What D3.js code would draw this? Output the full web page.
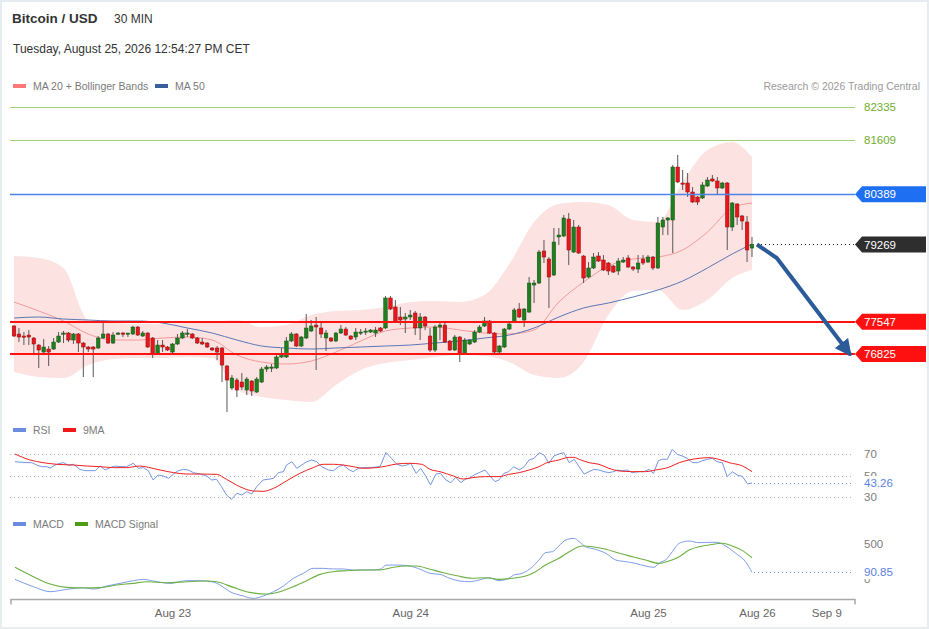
<!DOCTYPE html>
<html>
<head>
<meta charset="utf-8">
<script src="https://cdn.jsdelivr.net/npm/d3@7"></script>
<style>
  body { margin: 0; background: #fff; }
  svg { display: block; font-family: "Liberation Sans", Arial, sans-serif; }
</style>
</head>
<body>
<div id="dchart"></div>
<script>
// --- candles (30 min) ---
const open = [77451,77273,77228,77250,77184,77027,76871,76938,76938,77094,77273,77295,77139,77273,77072,76983,76983,76961,77184,77273,
  77072,77273,77295,77273,77273,77429,77228,77295,77184,76827,77027,76983,76871,77050,77184,77273,77273,77184,77094,77072,
  76961,76961,76961,76559,76069,76247,76202,76024,76225,75979,76202,76492,76515,76515,76760,76760,77117,77273,77005,77184,
  77340,77473,77407,77184,77184,77117,77295,77384,77228,77206,77295,77317,77317,77295,77407,77407,78076,77875,77652,77607,
  77652,77741,77407,77652,77228,76916,77429,77473,77117,76916,77206,76849,77050,77094,77317,77451,77563,77295,76871,76983,
  77384,77540,77830,77585,77763,78365,78410,79124,78945,78588,79436,79458,79837,79101,79659,79012,78544,78745,79012,78923,
  78856,78789,78678,78878,78968,78767,78722,78945,78878,78990,78745,79659,79815,79815,80997,80640,80640,80439,80328,80306,
  80573,80730,80685,80529,80640,79659,80172,79905,79770,79190];
const high = [77473,77407,77317,77362,77206,77050,77161,77005,77184,77317,77340,77317,77295,77295,77094,77005,77005,77228,77518,77295,
  77317,77317,77317,77295,77451,77451,77340,77317,77206,77139,77139,77005,77072,77273,77340,77384,77295,77206,77184,77094,
  76983,77005,76983,76581,76358,76292,76403,76314,76247,76314,76537,76581,76604,76804,76961,77206,77317,77295,77228,77719,
  77585,77652,77518,77362,77206,77317,77473,77429,77250,77407,77384,77407,77384,77429,77429,78120,78120,78031,77875,77741,
  77808,77786,77741,77674,77407,77473,77518,77518,77139,77250,77228,77184,77161,77362,77473,77652,77585,77317,77027,77407,
  77518,77853,77964,77853,78544,78477,79146,79369,78990,79637,79637,79927,79971,79815,79704,79034,78878,79079,79101,79034,
  78878,78811,78968,78990,79034,78789,79034,79034,79034,79012,79882,79882,79882,81041,81265,80930,80863,80551,80350,80663,
  80774,80819,80774,80663,80663,80216,80194,79927,79905,79436];
const low = [77206,77094,77027,77027,76849,76515,76849,76559,76916,77072,77072,77094,77050,76871,76314,76871,76314,76938,77161,77050,
  77050,77250,77206,77206,77250,77228,77206,76961,76738,76804,76871,76894,76849,77027,77161,77206,77161,77050,77027,76961,
  76894,76693,76202,75533,76024,75868,76024,75912,75890,75957,76180,76425,76425,76492,76738,76738,77094,76983,76983,77161,
  77317,76470,77184,76894,77094,77094,77273,77228,77139,77139,77250,77250,77295,77206,77317,77384,77808,77518,77473,77295,
  77585,77250,77139,77362,76871,76871,77139,77072,76894,76894,76648,76827,77027,77072,77295,77429,77273,76849,76849,76961,
  77362,77518,77630,77429,77741,77964,78388,78856,77853,78566,79257,79436,78811,79079,79057,78410,78521,78722,78878,78678,
  78588,78633,78588,78856,78745,78678,78633,78811,78856,78700,78722,79480,79480,79079,80640,80484,80328,80194,80149,80283,
  80551,80663,80372,80506,79146,79570,79704,79592,78878,78990];
const close = [77228,77206,77206,77206,77050,76916,76983,76871,77094,77228,77295,77139,77273,77072,76983,76938,76938,77184,77273,77072,
  77250,77295,77273,77295,77429,77250,77295,76983,76827,77027,76983,76916,77050,77184,77295,77295,77184,77072,77050,76983,
  76916,76871,76581,76247,76292,76024,76091,76269,76002,76269,76492,76537,76537,76760,76827,77117,77273,77005,77206,77407,
  77451,77429,77273,77295,77117,77295,77384,77250,77161,77317,77317,77340,77362,77362,77340,78076,77830,77540,77585,77652,
  77696,77407,77652,77451,76916,77429,77473,77094,76916,77206,76849,77139,77139,77317,77429,77563,77295,76871,77005,77384,
  77496,77808,77652,77830,78410,78410,79101,78990,78544,79324,79480,79860,79146,79659,79079,78521,78745,78990,78900,78700,
  78678,78655,78900,78923,78767,78722,78856,78856,78990,78745,79748,79815,79860,80997,80663,80618,80439,80216,80216,80596,
  80707,80685,80529,80640,79659,80194,79882,79793,79146,79269];

// --- MA 20 + Bollinger, MA 50 (read every 5 candles) ---
const maIdx = [0,5,10,15,20,25,30,35,40,45,50,55,60,65,70,75,80,85,90,95,100,105,110,115,120,125,130,135,140,145,149];
const bbUpper = [79012,78968,78745,77585,77518,77496,77496,77518,77540,77585,77429,77473,77696,77786,77808,77875,77986,78009,77986,78143,
  78834,79771,80172,80216,80149,79815,79771,80662,81376,81554,81220];
const bbLower = [76425,76314,76292,76581,76715,76738,76738,76760,76738,76024,75868,75801,75756,76136,76470,76626,76693,76760,76804,76782,
  76648,76358,76292,76648,77696,78232,78254,77808,78031,78522,78700];
const ma20 = [77986,77786,77563,77273,77139,77139,77184,77206,77139,76804,76648,76604,76671,76871,77117,77340,77407,77429,77362,77295,
  77273,77362,77986,78432,78789,78945,78990,79146,79547,80083,80194];
const ma50 = [77630,77652,77607,77585,77563,77563,77518,77407,77295,77139,77005,76961,76938,76961,76983,77005,77027,77072,77117,77184,
  77250,77407,77652,77853,77964,78098,78254,78455,78745,79057,79280];

// --- levels ---
const resistances = [82335, 81609];
const pivot = 80389;
const lastPrice = 79269;
const supports = [77547, 76825];
const forecast = [[150, 79269], [154, 78968], [168.9, 76804]];

// --- RSI ---
const rsiIdx = [0.2,2.6,3.6,4.6,5.6,6.6,7.3,8.3,9.3,10,11,12,13.3,14.3,15.3,16.4,17.4,18.4,19.4,20.4,21.4,22.7,24.1,25.1,26.1,27.1,28.1,29.1,30.1,31.2,
  32.2,33.2,34.2,35.2,36.2,37.6,38.9,39.9,40.9,41.9,42.9,43.9,45,46,47,48,49,50.3,51.3,52.4,53.4,54.4,55,56.1,57.1,58.1,59.1,60.1,61.1,62.1,
  63.5,64.5,65.5,66.5,67.5,68.5,69.5,70.5,71.5,72.5,73.9,75.1,76.2,77.3,78.3,79.3,80.1,81.2,82.1,83.2,84.1,85.2,86.1,87.2,88.2,89.2,90.2,91.1,
  91.9,92.9,93.9,95.1,96.2,97.1,97.9,98.9,99.9,100.9,102,103,104,105,106,107,108,109,110,111,112.1,113.1,114.1,115.1,116.1,117.1,118.1,119.1,
  120.1,121.1,121.8,122.8,123.8,124.8,126.2,127.2,128.2,129.1,130.1,130.9,131.9,132.9,133.9,134.9,135.9,137,138,139,140,141,141.9,143,144,145,
  146,147.1,148.1,149];
const rsi = [62.9,62.0,62.0,59.8,58.3,58.3,57.1,59.8,61.4,62.0,59.5,60.5,55.8,54.6,54.6,54.6,58.9,55.2,57.4,58.9,58.3,58.3,61.4,56.8,57.4,54.6,46.0,50.6,49.7,47.5,
  51.5,54.6,55.8,55.2,52.8,51.5,49.7,46.0,46.6,39.8,32.1,28.1,33.7,32.1,35.2,33.1,39.8,46.0,46.6,47.5,52.8,53.7,59.8,62.9,56.8,59.8,62.9,64.5,62.9,58.3,
  55.2,54.6,58.3,59.8,55.8,53.7,56.8,57.4,57.4,57.7,58.3,71.5,66.0,60.5,58.9,59.8,61.4,52.1,56.8,49.1,41.4,51.5,52.1,46.0,43.5,48.5,43.5,46.6,
  47.5,50.6,52.8,55.2,49.1,44.5,46.0,52.1,53.7,58.3,55.2,58.3,64.5,66.0,71.2,69.1,61.4,68.2,70.0,71.2,62.0,65.1,58.3,51.5,53.7,55.8,55.2,53.7,
  52.8,53.7,55.2,54.6,55.2,52.8,53.7,53.7,55.8,52.1,63.8,65.1,65.1,74.3,69.7,68.2,66.0,62.0,62.0,63.8,65.1,66.0,62.9,62.0,49.1,53.7,
  50.6,49.1,42.3,43.26];
const rsiMaIdx = [0.2,3.2,5.9,8.6,12,14.7,17.4,20.1,22.7,25.4,27.1,29.5,32.2,34.9,37.6,40.9,42.9,45.6,48.3,50.3,52.4,55,57.7,60.4,62.4,64.5,66.5,68.5,70.5,73.2,
  75.2,77.3,79.9,82.3,84,86,88.7,90.7,92.5,95.2,97.9,99.9,102,104,106,107.3,110,112.1,113.1,114.1,116.1,118.1,120.1,122.2,124.8,127.5,129.5,132.2,134.3,136.3,
  138.3,140.3,142.3,144.4,147.1,149];
const rsiMa = [70.0,64.5,62.0,60.5,59.8,58.9,58.3,57.4,57.4,58.9,57.7,55.2,52.8,51.5,51.5,51.2,46.6,39.8,35.8,35.5,38.3,45.1,52.1,57.4,60.5,60.5,59.8,58.3,56.8,57.4,
  58.9,60.8,61.4,60.5,55.8,53.7,49.7,46.9,48.1,49.1,49.1,51.2,52.8,55.2,58.3,61.4,64.5,66.9,66.9,65.1,62.0,60.5,56.8,54.3,53.7,53.7,55.2,57.7,62.0,64.5,
  66.0,66.6,65.1,62.0,58.9,53.7];
const rsiTicks = [70, 50, 30];

// --- MACD ---
const macdIdx = [0.2,3.9,7.3,10.6,14,16,18.7,21.4,24.1,26.1,28.1,31.5,34.9,37.6,40.2,41.6,43.6,46.3,48.3,50.3,52.4,54.4,56.4,58.4,60.4,62.4,64.5,66.5,68.5,71.2,
  73.9,75.2,77.3,79.9,82,84,86,88,90,91.9,93.9,95.9,97.9,99.9,100.9,102.6,104.7,106,107.3,108.7,110,111.4,113.1,114.1,115.4,117.4,119.5,121.5,123.5,125.5,
  127.5,129.2,130.2,131.9,132.9,134.3,136.3,138.3,140.3,142,143.7,145.7,147.7,149];
const macd = [-11,-117,-189,-156,-131,-151,-107,-69,-30,-11,-35,-69,-30,-30,-49,-93,-189,-252,-286,-252,-189,-107,4,76,148,148,139,139,124,124,
  134,196,196,182,134,76,61,4,-35,-45,-21,13,-30,4,52,76,172,269,375,389,471,558,582,534,461,423,365,269,245,220,
  182,163,220,293,389,510,543,519,524,524,471,365,245,90.85];
const signalIdx = [0.2,3.9,7.3,10.6,14,17.4,20.7,24.1,26.8,30.8,34.9,38.9,40.9,44.3,47.6,51,53.7,56.4,59.1,61.8,64.5,67.2,69.9,73.9,76.6,79.3,81.3,84,86.7,89.4,
  92.5,95.2,97.9,100.6,103.3,105.3,107.3,110,112.1,114.8,116.8,119.5,122.2,124.8,127.5,130.2,132.2,134.3,136.3,138.3,140.3,143,145,147.1,149];
const signal = [163,28,-78,-127,-136,-131,-93,-69,-45,-59,-45,-35,-45,-127,-199,-223,-189,-117,-30,61,100,114,124,124,163,182,182,134,85,42,
  4,13,-11,4,37,100,196,293,389,471,461,423,365,317,269,220,254,317,413,461,486,510,471,404,302];
const macdTicks = [500, 0];

// --- time axis ---
const tickIdx = [32, 80, 128, 150, 164];
const tickLabels = ["Aug 23", "Aug 24", "Aug 25", "Aug 26", "Sep 9"];

const width = 929, height = 629;
const plotLeft = 10, plotRight = 855, labelX = 864;

const svg = d3.select("#dchart").append("svg").attr("width", width).attr("height", height);

svg.append("rect").attr("x", 1).attr("y", 1).attr("width", width - 2).attr("height", height - 2)
  .attr("fill", "#fff").attr("stroke", "#e6ecef").attr("stroke-width", 2);

const x = d3.scaleLinear().domain([0, 149]).range([14, 752]);
const y = d3.scaleLinear().domain([82335, 76825]).range([107, 354.1]);
const yRsi = d3.scaleLinear().domain([70, 30]).range([454, 497.3]);
const yMacd = d3.scaleLinear().domain([500, 0]).range([544, 578.6]);
const snap = v => Math.round(v) + 0.5;

// header
svg.append("text").attr("x", 12).attr("y", 23).attr("font-size", 13.5).attr("font-weight", "bold").attr("fill", "#333").text("Bitcoin / USD");
svg.append("text").attr("x", 114).attr("y", 23).attr("font-size", 12).attr("fill", "#333").text("30 MIN");
svg.append("text").attr("x", 13).attr("y", 53).attr("font-size", 12).attr("fill", "#333").text("Tuesday, August 25, 2026 12:54:27 PM CET");

function legend(items, ly) {
  let g = svg.append("g");
  items.forEach(it => {
    g.append("rect").attr("x", it.x).attr("y", ly - 2).attr("width", 13).attr("height", 4).attr("fill", it.color);
    g.append("text").attr("x", it.x + 20).attr("y", ly + 4).attr("font-size", 10.5).attr("fill", "#7a7a7a").text(it.name);
  });
}
legend([{x: 13, color: "#f77", name: "MA 20 + Bollinger Bands"}, {x: 155, color: "#3a5f9e", name: "MA 50"}], 86);
svg.append("text").attr("x", 920).attr("y", 90).attr("text-anchor", "end").attr("font-size", 10.5).attr("fill", "#9a9a9a")
  .text("Research \u00a9 2026 Trading Central");

// bollinger band + moving averages
const maData = maIdx.map((d, k) => ({i: d, hi: bbUpper[k], lo: bbLower[k], m20: ma20[k], m50: ma50[k]}));
svg.append("path").datum(maData)
  .attr("d", d3.area().x(d => x(d.i)).y0(d => y(d.lo)).y1(d => y(d.hi)).curve(d3.curveMonotoneX))
  .attr("fill", "#fde2e2");
svg.append("path").datum(maData)
  .attr("d", d3.line().x(d => x(d.i)).y(d => y(d.m20)).curve(d3.curveMonotoneX))
  .attr("fill", "none").attr("stroke", "#f49a9a").attr("stroke-width", 1);
svg.append("path").datum(maData)
  .attr("d", d3.line().x(d => x(d.i)).y(d => y(d.m50)).curve(d3.curveMonotoneX))
  .attr("fill", "none").attr("stroke", "#5a78b4").attr("stroke-width", 1);

// candles
const candles = d3.range(open.length).map(i => ({i: i, o: open[i], h: high[i], l: low[i], c: close[i]}));
const cg = svg.append("g");
cg.selectAll("line.wick").data(candles).enter().append("line")
  .attr("x1", d => x(d.i)).attr("x2", d => x(d.i))
  .attr("y1", d => y(d.h)).attr("y2", d => y(d.l))
  .attr("stroke", "#5b5656").attr("stroke-width", 1);
cg.selectAll("rect.body").data(candles).enter().append("rect")
  .attr("x", d => x(d.i) - 1.8).attr("width", 3.6)
  .attr("y", d => y(Math.max(d.o, d.c)))
  .attr("height", d => Math.max(1.2, Math.abs(y(d.o) - y(d.c))))
  .attr("fill", d => d.c >= d.o ? "#1f7f1f" : "#e8161a")
  .attr("stroke", d => d.c >= d.o ? "#145214" : "#8e1010").attr("stroke-width", 0.5);

// levels
function hline(v, color, w, dash, x0) {
  let yy = w % 2 ? snap(y(v)) : Math.round(y(v));
  svg.append("line").attr("x1", x0 || plotLeft).attr("x2", plotRight).attr("y1", yy).attr("y2", yy)
    .attr("stroke", color).attr("stroke-width", w).attr("stroke-dasharray", dash || null);
}
function tag(v, color) {
  let yy = y(v);
  svg.append("path")
    .attr("d", `M${plotRight},${yy} L${plotRight + 7},${yy - 8} L926,${yy - 8} L926,${yy + 8} L${plotRight + 7},${yy + 8} Z`)
    .attr("fill", color);
  svg.append("text").attr("x", labelX).attr("y", yy).attr("dy", "0.36em").attr("font-size", 11.5).attr("fill", "#fff").text(v);
}
resistances.forEach(v => {
  hline(v, "#9fd073", 1);
  svg.append("text").attr("x", labelX).attr("y", y(v)).attr("dy", "0.36em").attr("font-size", 11.5).attr("fill", "#6fae2c").text(v);
});
hline(pivot, "#4f82e8", 1.5);
tag(pivot, "#1f6ff2");
hline(lastPrice, "#222", 1, "1,3", x(149) + 5);
tag(lastPrice, "#2e2e2e");
supports.forEach(v => { hline(v, "#ff1212", 2); tag(v, "#ff1010"); });

// forecast arrow
svg.append("defs").append("marker").attr("id", "head").attr("viewBox", "0 0 10 10")
  .attr("refX", 9).attr("refY", 5).attr("markerWidth", 4.2).attr("markerHeight", 4.2)
  .attr("markerUnits", "strokeWidth").attr("orient", "auto")
  .append("path").attr("d", "M0,0 L10,5 L0,10 Z").attr("fill", "#2c5b99");
svg.append("path").datum(forecast)
  .attr("d", d3.line().x(d => x(d[0])).y(d => y(d[1])))
  .attr("fill", "none").attr("stroke", "#2c5b99").attr("stroke-width", 4).attr("stroke-linejoin", "round")
  .attr("marker-end", "url(#head)");

// RSI panel
legend([{x: 13, color: "#6a8de0", name: "RSI"}, {x: 63, color: "#f01818", name: "9MA"}], 430);
rsiTicks.forEach(t => {
  svg.append("line").attr("x1", plotLeft).attr("x2", 852).attr("y1", snap(yRsi(t))).attr("y2", snap(yRsi(t)))
    .attr("stroke", "#b8b8b8").attr("stroke-dasharray", "1,3");
  svg.append("text").attr("x", labelX).attr("y", yRsi(t)).attr("dy", "0.36em").attr("font-size", 11.5).attr("fill", "#7c7c7c").text(t);
});
svg.append("path").datum(rsiIdx.map((d, k) => [d, rsi[k]]))
  .attr("d", d3.line().x(d => x(d[0])).y(d => yRsi(d[1])))
  .attr("fill", "none").attr("stroke", "#7494e4").attr("stroke-width", 1);
svg.append("path").datum(rsiMaIdx.map((d, k) => [d, rsiMa[k]]))
  .attr("d", d3.line().x(d => x(d[0])).y(d => yRsi(d[1])).curve(d3.curveMonotoneX))
  .attr("fill", "none").attr("stroke", "#f02020").attr("stroke-width", 1);
let lastRsi = rsi[rsi.length - 1];
svg.append("line").attr("x1", x(149) + 2).attr("x2", 852).attr("y1", snap(yRsi(lastRsi))).attr("y2", snap(yRsi(lastRsi)))
  .attr("stroke", "#6a8de0").attr("stroke-dasharray", "1,3");
svg.append("rect").attr("x", 860).attr("y", yRsi(lastRsi) - 7).attr("width", 40).attr("height", 14).attr("fill", "#fff");
svg.append("text").attr("x", labelX).attr("y", yRsi(lastRsi)).attr("dy", "0.36em").attr("font-size", 11.5).attr("fill", "#5a82e6").text(lastRsi.toFixed(2));

// MACD panel
legend([{x: 13, color: "#6a8de0", name: "MACD"}, {x: 75, color: "#4e9d16", name: "MACD Signal"}], 524);
macdTicks.forEach(t => {
  svg.append("text").attr("x", labelX).attr("y", yMacd(t)).attr("dy", "0.36em").attr("font-size", 11.5).attr("fill", "#7c7c7c").text(t);
});
svg.append("path").datum(macdIdx.map((d, k) => [d, macd[k]]))
  .attr("d", d3.line().x(d => x(d[0])).y(d => yMacd(d[1])).curve(d3.curveMonotoneX))
  .attr("fill", "none").attr("stroke", "#7e9de8").attr("stroke-width", 1);
svg.append("path").datum(signalIdx.map((d, k) => [d, signal[k]]))
  .attr("d", d3.line().x(d => x(d[0])).y(d => yMacd(d[1])).curve(d3.curveMonotoneX))
  .attr("fill", "none").attr("stroke", "#6cb043").attr("stroke-width", 1.1);
let lastMacd = macd[macd.length - 1];
svg.append("line").attr("x1", x(149) + 2).attr("x2", 852).attr("y1", snap(yMacd(lastMacd))).attr("y2", snap(yMacd(lastMacd)))
  .attr("stroke", "#6a8de0").attr("stroke-dasharray", "1,3");
svg.append("rect").attr("x", 860).attr("y", yMacd(lastMacd) - 7).attr("width", 40).attr("height", 14).attr("fill", "#fff");
svg.append("text").attr("x", labelX).attr("y", yMacd(lastMacd)).attr("dy", "0.36em").attr("font-size", 11.5).attr("fill", "#5a82e6").text(lastMacd.toFixed(2));

// time axis
const axisY = 599.5;
svg.append("path").attr("d", `M${plotLeft + 1},${axisY + 5} V${axisY} H${plotRight} V${axisY + 5}`)
  .attr("fill", "none").attr("stroke", "#a9a9a9").attr("stroke-width", 1.5);
const xAxis = d3.axisBottom(x).tickValues(tickIdx).tickFormat((d, k) => tickLabels[k]).tickSize(0).tickPadding(9);
const ag = svg.append("g").attr("transform", `translate(0,${axisY})`).call(xAxis);
ag.select(".domain").remove();
ag.selectAll("text").attr("font-size", 11.5).attr("fill", "#666").attr("font-family", "\"Liberation Sans\", Arial, sans-serif");
</script>
</body>
</html>
